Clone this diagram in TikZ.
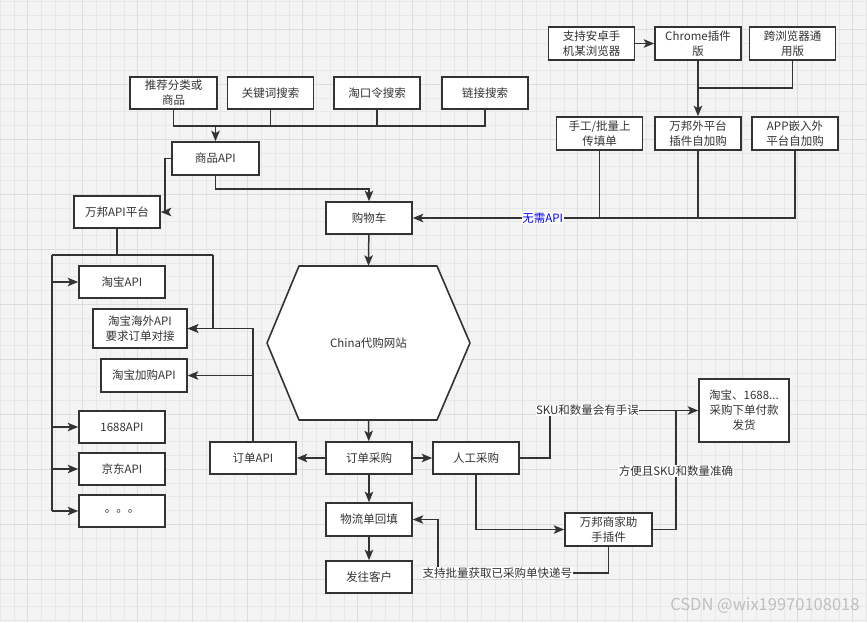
\documentclass[tikz,border=0pt]{standalone}
\usepackage{fontspec}
\setmainfont{Noto Sans CJK SC}
\usepackage{xcolor}
\usepackage{tikz}
\usetikzlibrary{arrows.meta}

\definecolor{ink}{HTML}{333333}
\definecolor{gridbg}{HTML}{F4F4F4}
\definecolor{gridlo}{HTML}{E8E8E8}
\definecolor{gridhi}{HTML}{DDDDDD}

\begin{document}
\begin{tikzpicture}[
  x=1pt, y=-1pt,
  font=\fontsize{11.5}{15}\selectfont,
  >=Stealth,
  cbox/.style={
    draw=ink, fill=white, align=center, text=ink,
    inner sep=1pt, minimum width=86pt, minimum height=32pt,
    line width=1.6pt
  },
  arr/.style={-{Stealth[length=10.5pt, width=8.5pt, inset=2.5pt]}, line width=1.5pt, draw=ink},
  wire/.style={line width=1.5pt, draw=ink},
  lab/.style={fill=white, text=ink, inner sep=0.5pt},
  gridminor/.style={draw=gridlo, line width=0.8pt},
  gridmajor/.style={draw=gridhi, line width=1pt}
]
  \useasboundingbox (0,0) rectangle (867,622);
  \fill[gridbg] (0,0) rectangle (867,622);
  \foreach \i in {0,...,63}
    \draw[gridminor] ({0.2+13.75*\i},0) -- ({0.2+13.75*\i},622);
  \foreach \j in {0,...,45}
    \draw[gridminor] (0,{1.8+13.75*\j}) -- (867,{1.8+13.75*\j});
  \foreach \i in {0,...,15}
    \draw[gridmajor] ({27.7+55*\i},0) -- ({27.7+55*\i},622);
  \foreach \j in {0,...,11}
    \draw[gridmajor] (0,{29.3+55*\j}) -- (867,{29.3+55*\j});

  \node[cbox, minimum width=87pt] (rec) at (173.5,93) {推荐分类或\\商品};
  \node[cbox] (kw) at (270.5,93) {关键词搜索};
  \node[cbox] (tkl) at (377,93) {淘口令搜索};
  \node[cbox] (link) at (485,93) {链接搜索};
  \node[cbox, minimum width=87pt, minimum height=33pt] (goods) at (215.5,158.5) {商品API};
  \node[cbox] (wbapi) at (117,212) {万邦API平台};
  \node[cbox] (cart) at (369,218) {购物车};

  \node[cbox, minimum height=33pt] (android) at (591.5,43.5) {支持安卓手\\机某浏览器};
  \node[cbox, minimum height=33pt] (chrome) at (698,43.5) {Chrome插件\\版};
  \node[cbox, minimum height=33pt] (cross) at (792.5,43.5) {跨浏览器通\\用版};
  \node[cbox, minimum height=33pt] (manual) at (599.5,133.5) {手工/批量上\\传填单};
  \node[cbox, minimum height=33pt] (plugin) at (698,133.5) {万邦外平台\\插件自加购};
  \node[cbox, minimum height=33pt] (app) at (795,133.5) {APP嵌入外\\平台自加购};

  \draw[draw=ink, fill=white, line width=1.6pt, line join=round]
    (267,343) -- (299,266) -- (437,266) -- (470,343) -- (437,420) -- (299,420) -- cycle;
  \node[text=ink, minimum width=140pt, minimum height=154pt, inner sep=0pt] (site) at (368.5,343) {China代购网站};

  \node[cbox] (tb) at (122,282) {淘宝API};
  \node[cbox, minimum width=94pt, minimum height=39pt] (tbov) at (140,328.5) {淘宝海外API\\要求订单对接};
  \node[cbox, minimum height=33pt] (tbadd) at (144,375.5) {淘宝加购API};
  \node[cbox] (a1688) at (122,427) {1688API};
  \node[cbox] (jd) at (122,469) {京东API};
  \node[cbox] (more) at (122,511) {。。。};

  \node[cbox] (ordapi) at (253,458) {订单API};
  \node[cbox] (order) at (369,458) {订单采购};
  \node[cbox] (manpur) at (476,458) {人工采购};
  \node[cbox, minimum width=90pt, minimum height=63pt] (buy) at (744,410.5) {淘宝、1688...\\采购下单付款\\发货};
  \node[cbox, minimum width=87pt, minimum height=33pt] (helper) at (608.5,529.5) {万邦商家助\\手插件};
  \node[cbox, minimum height=33pt] (logi) at (369,519.5) {物流单回填};
  \node[cbox] (ship) at (369,577) {发往客户};

  \node[text=black!25, font=\fontsize{16.5}{18}\selectfont, anchor=east] (mark) at (863,606) {CSDN @wix19970108018};

  \coordinate (kbus) at (174,126);
  \coordinate (jn) at (698,88);
  \coordinate (apiL) at (52,255);
  \coordinate (apiR) at (213,255);
  \coordinate (okT) at (676,410.5);
  \coordinate (tn) at (438,573);

  \draw[wire] (rec.south) -- (rec.south |- kbus) -- (link.south |- kbus) -- (link.south);
  \draw[wire] (kw.south) -- (kw.south |- kbus);
  \draw[wire] (tkl.south) -- (tkl.south |- kbus);
  \draw[arr] (goods.north |- kbus) -- (goods.north);
  \draw[arr] (goods.west) -- ++(-6,0) |- (wbapi.east);
  \draw[arr] (goods.south) -- ++(0,13) -| (cart.north);

  \draw[arr] (android) -- (chrome);
  \draw[arr] (chrome) -- (plugin);
  \draw[wire] (cross.south) |- (jn);
  \draw[wire] (manual.south) -- (manual.south |- cart.east);
  \draw[wire] (plugin.south) -- (plugin.south |- cart.east);
  \draw[arr] (app.south) |- node[lab, text=blue, pos=0.83] {无需API} (cart.east);

  \draw[arr] (cart) -- (site.north);
  \draw[wire] (wbapi.south) -- (wbapi.south |- apiL);
  \draw[wire] (apiL) -- (apiR);
  \draw[arr] (apiR) |- (tbov.east);
  \draw[wire] (apiL) -- (apiL |- more.west);
  \draw[arr] (apiL |- tb.west) -- (tb.west);
  \draw[arr] (apiL |- a1688.west) -- (a1688.west);
  \draw[arr] (apiL |- jd.west) -- (jd.west);
  \draw[arr] (apiL |- more.west) -- (more.west);
  \draw[arr] (ordapi.north) |- (tbov.east);
  \draw[arr] (ordapi.north |- tbadd.east) -- (tbadd.east);

  \draw[arr] (site.south) -- (order);
  \draw[arr] (order) -- (ordapi);
  \draw[arr] (order) -- (manpur);
  \draw[arr] (order) -- (logi);
  \draw[arr] (logi) -- (ship);

  \draw[arr] (manpur.east) -- ++(30,0) |- node[lab, pos=0.627] {SKU和数量会有手误} (buy.west);
  \draw[arr] (manpur.south) |- (helper.west);
  \draw[wire] (helper.east) -| node[lab, pos=0.745] {方便且SKU和数量准确} (okT);
  \draw[arr] (helper.south) |- node[lab, pos=0.826] {支持批量获取已采购单快递号} (tn) |- (logi.east);
\end{tikzpicture}
\end{document}
